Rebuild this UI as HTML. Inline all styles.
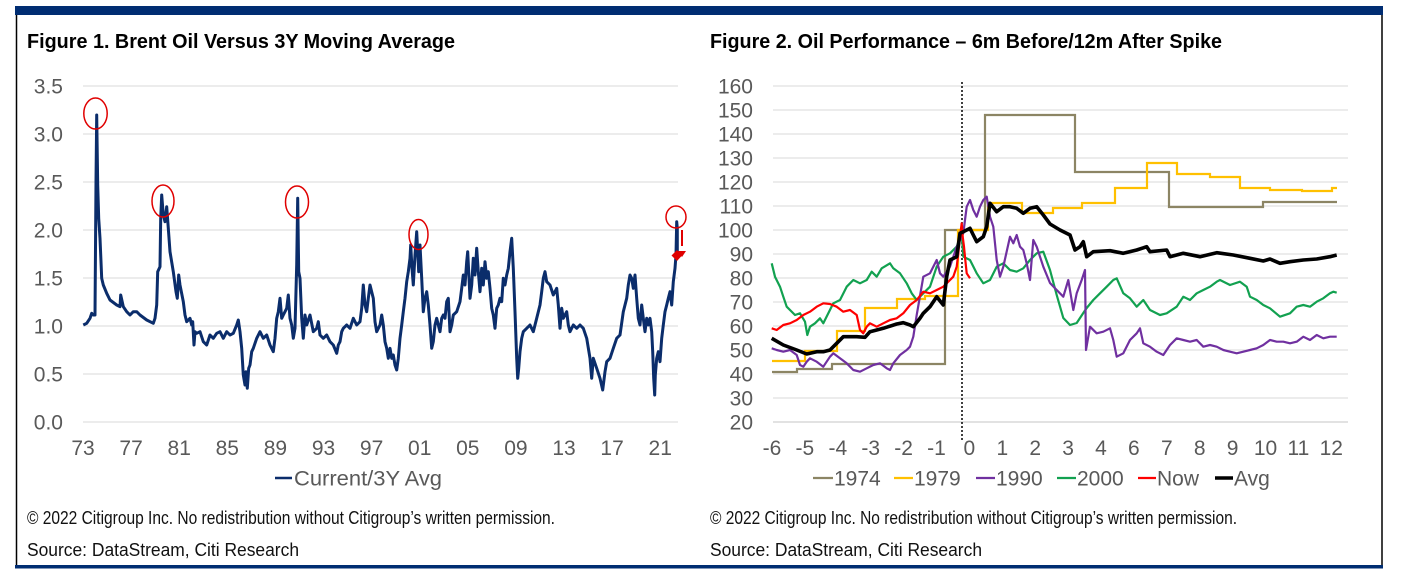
<!DOCTYPE html>
<html>
<head>
<meta charset="utf-8">
<style>
html,body{margin:0;padding:0;background:#fff;}
svg{display:block;}
text{font-family:"Liberation Sans",Arial,sans-serif;}
.tk{font-size:21px;fill:#595959;}
.ttl{font-family:"Liberation Sans Narrow","Liberation Sans",Arial,sans-serif;font-size:20px;font-weight:bold;fill:#000;}
.cp{font-family:"Liberation Sans Narrow","Liberation Sans",Arial,sans-serif;font-size:18px;fill:#111;}
.src{font-size:18px;fill:#111;}
.g{stroke:#d9d9d9;stroke-width:1;}
</style>
</head>
<body>
<svg width="1423" height="587" viewBox="0 0 1423 587" xmlns="http://www.w3.org/2000/svg">
<rect x="0" y="0" width="1423" height="587" fill="#fff"/>
<!-- frame -->
<rect x="15" y="6" width="1368" height="9" fill="#002D72"/>
<line x1="16.5" y1="15" x2="16.5" y2="566" stroke="#000" stroke-width="1.5"/>
<line x1="1382" y1="15" x2="1382" y2="566" stroke="#000" stroke-width="1.5"/>
<rect x="15" y="565" width="1368" height="3.5" fill="#002D72"/>

<!-- titles -->
<text class="ttl" x="27" y="48" textLength="428" lengthAdjust="spacingAndGlyphs">Figure 1. Brent Oil Versus 3Y Moving Average</text>
<text class="ttl" x="710" y="48" textLength="512" lengthAdjust="spacingAndGlyphs">Figure 2. Oil Performance – 6m Before/12m After Spike</text>

<!-- LEFT CHART -->
<g>
<line class="g" x1="83" y1="86" x2="678" y2="86"/>
<line class="g" x1="83" y1="134" x2="678" y2="134"/>
<line class="g" x1="83" y1="182" x2="678" y2="182"/>
<line class="g" x1="83" y1="230" x2="678" y2="230"/>
<line class="g" x1="83" y1="278" x2="678" y2="278"/>
<line class="g" x1="83" y1="326" x2="678" y2="326"/>
<line class="g" x1="83" y1="374" x2="678" y2="374"/>
<line class="g" x1="83" y1="422" x2="678" y2="422"/>
</g>
<g class="tk" text-anchor="end">
<text x="63" y="93.5">3.5</text>
<text x="63" y="141.5">3.0</text>
<text x="63" y="189.5">2.5</text>
<text x="63" y="237.5">2.0</text>
<text x="63" y="285.5">1.5</text>
<text x="63" y="333.5">1.0</text>
<text x="63" y="381.5">0.5</text>
<text x="63" y="429.5">0.0</text>
</g>
<g class="tk" text-anchor="middle">
<text x="83" y="455">73</text>
<text x="131.1" y="455">77</text>
<text x="179.2" y="455">81</text>
<text x="227.3" y="455">85</text>
<text x="275.4" y="455">89</text>
<text x="323.5" y="455">93</text>
<text x="371.6" y="455">97</text>
<text x="419.7" y="455">01</text>
<text x="467.8" y="455">05</text>
<text x="515.9" y="455">09</text>
<text x="564" y="455">13</text>
<text x="612.1" y="455">17</text>
<text x="660.2" y="455">21</text>
</g>
<polyline fill="none" stroke="#0B2D6B" stroke-width="3" stroke-linejoin="round" points="83.3,325 86.7,323.3 90,318.3 91.7,313.3 93.3,315 95,315 96,181.7 96.7,115 97.7,185 98.7,218.3 100,238.3 101.7,278.3 103.3,285 106.7,293.3 110,300 116.7,305 120,306.7 120.7,295 123.3,306.7 126.7,311.7 130,315 133.3,311.7 136.7,311.7 140,315 146.7,320 153.3,323.3 155,318.3 156.7,305 157.7,271.7 160,266.7 160.7,218.3 161.7,195 163.3,215 165,221.7 166.7,206.7 168.3,228.3 170,251.7 173.3,271.7 176,291.7 177.3,298.3 178.7,275 180,285 183.3,301.7 185,315 186.7,321.7 190,318.3 191.7,325 192.7,321.7 194,345 195,331.7 196.7,333.3 200,331.7 203.3,341.7 206.7,345 210,335 213.3,338.3 216.7,333.3 220,331.7 223.3,338.3 226.7,331.7 230,335 233.3,333.3 236.7,325 238.3,320 240,331.7 241.7,348.3 243.3,375 245,385 246,371.7 247.3,388.3 248.7,368.3 250,365 251.7,351.7 253.3,348.3 256.7,338.3 260,331.7 263.3,338.3 266.7,335 270,345 273.3,351.7 275,338.3 276.7,318.3 278.3,311.7 280,298.3 281.7,318.3 283.3,315 286.7,308.3 288.3,295 290,318.3 291.7,325 293.3,338.3 295,328.3 296.7,265 297.7,198.3 298.7,271.7 300,278.3 301.7,318.3 303.3,338.3 305,315 306.7,325 310,315 313.3,331.7 316.7,328.3 318.3,321.7 320,335 323.3,338.3 326.7,335 330,341.7 333.3,345 336.7,353.3 338.3,345 340,341.7 341.7,331.7 343.3,328.3 346.7,325 350,328.3 353.3,318.3 356.7,325 360,321.7 361.7,308.3 363.3,285 365,305 366.7,311.7 368.3,298.3 370,285 373.3,298.3 375,321.7 376.7,331.7 380,325 381.7,315 383.3,325 385,341.7 386.7,348.3 388.3,358.3 390,348.3 391.7,358.3 393.3,355 395,365 396.7,370 398.3,358.3 400,338.3 401.7,325 403.3,311.7 405,298.3 406.7,281.7 408.3,271.7 410,258.3 410.7,245 412,268.3 413.3,285 415,255 416.7,231.7 417.7,251.7 418.7,271.7 420,245 421.7,278.3 423.3,311.7 425,298.3 426.7,291.7 428.3,305 430,325 431.7,348.3 433.3,341.7 435,325 436.7,318.3 438.3,325 440,331.7 441.7,318.3 443.3,315 445,318.3 446.7,301.7 448.3,298.3 450,331.7 451.7,325 453.3,315 456.7,311.7 460,301.7 461.7,288.3 463.3,275 465,285 466.7,261.7 467.7,251.7 468.7,271.7 470,298.3 471.7,285 473.3,258.3 475,275 476.7,248.3 478.3,271.7 480,291.7 481.7,268.3 483.3,285 485,261.7 486.7,278.3 488.3,271.7 490,288.3 491.7,308.3 493.3,315 495,328.3 496.7,308.3 498.3,305 500,298.3 501.7,301.7 503.3,278.3 505,285 506.7,275 508.3,268.3 510,251.7 511.7,238.3 513.3,268.3 515,311.7 516.7,358.3 517.7,378.3 518.7,368.3 520,351.7 521.7,338.3 523.3,331.7 526.7,328.3 530,325 533.3,331.7 536.7,318.3 540,305 541.7,291.7 543.3,278.3 545,271.7 546.7,281.7 550,285 553.3,295 556.7,288.3 558.3,305 560,328.3 561.7,308.3 563.3,318.3 566.7,311.7 568.3,325 570,331.7 573.3,325 576.7,328.3 580,325 583.3,328.3 586.7,338.3 590,358.3 591.7,378.3 593.3,358.3 596.7,368.3 600,378.3 602.7,390 605,371.7 606.7,361.7 610,358.3 613.3,348.3 616.7,338.3 620,335 623.3,311.7 625,305 626.7,298.3 628.3,285 630,275 631.7,278.3 633.3,288.3 635,275 636.7,298.3 638.3,318.3 640,325 641.7,305 643.3,318.3 645,331.7 646.7,318.3 648.3,325 650,318.3 651.7,331.7 652.7,351.7 653.7,378.3 654.7,395 655.3,375 656.7,358.3 658.3,351.7 660,361.7 661.7,338.3 663.3,325 665,311.7 666.7,305 668.3,298.3 670,291.7 671.7,305 673.3,281.7 675,268.3 676,255 676.7,221.7 677.3,228.3 677.3,255"/>
<!-- annotations -->
<g fill="none" stroke="#E00000" stroke-width="1.5">
<ellipse cx="95.5" cy="113.5" rx="11.7" ry="15.5"/>
<ellipse cx="163" cy="201" rx="11" ry="16"/>
<ellipse cx="297" cy="202" rx="11.5" ry="16"/>
<ellipse cx="418.5" cy="234.5" rx="9.5" ry="15"/>
<ellipse cx="676" cy="217" rx="10" ry="11"/>
<line x1="682" y1="230" x2="682" y2="246" stroke-width="2"/>
</g>
<polygon points="678,251 686,251 682,257" fill="#E00000"/>
<polygon points="677,250 682,255.5 677,261 671.5,255.5" fill="#E00000"/>
<!-- left legend -->
<line x1="275" y1="478" x2="292" y2="478" stroke="#0B2D6B" stroke-width="2.5"/>
<text class="tk" x="294" y="485.5" textLength="148" lengthAdjust="spacingAndGlyphs">Current/3Y Avg</text>

<!-- RIGHT CHART -->
<g>
<line class="g" x1="773" y1="86" x2="1348" y2="86"/>
<line class="g" x1="773" y1="110" x2="1348" y2="110"/>
<line class="g" x1="773" y1="134" x2="1348" y2="134"/>
<line class="g" x1="773" y1="158" x2="1348" y2="158"/>
<line class="g" x1="773" y1="182" x2="1348" y2="182"/>
<line class="g" x1="773" y1="206" x2="1348" y2="206"/>
<line class="g" x1="773" y1="230" x2="1348" y2="230"/>
<line class="g" x1="773" y1="254" x2="1348" y2="254"/>
<line class="g" x1="773" y1="278" x2="1348" y2="278"/>
<line class="g" x1="773" y1="302" x2="1348" y2="302"/>
<line class="g" x1="773" y1="326" x2="1348" y2="326"/>
<line class="g" x1="773" y1="350" x2="1348" y2="350"/>
<line class="g" x1="773" y1="374" x2="1348" y2="374"/>
<line class="g" x1="773" y1="398" x2="1348" y2="398"/>
<line x1="773" y1="422" x2="1348" y2="422" stroke="#d9d9d9" stroke-width="1.5"/>
</g>
<g class="tk" text-anchor="end">
<text x="753" y="93.5">160</text>
<text x="753" y="117.5">150</text>
<text x="753" y="141.5">140</text>
<text x="753" y="165.5">130</text>
<text x="753" y="189.5">120</text>
<text x="753" y="213.5">110</text>
<text x="753" y="237.5">100</text>
<text x="753" y="261.5">90</text>
<text x="753" y="285.5">80</text>
<text x="753" y="309.5">70</text>
<text x="753" y="333.5">60</text>
<text x="753" y="357.5">50</text>
<text x="753" y="381.5">40</text>
<text x="753" y="405.5">30</text>
<text x="753" y="429.5">20</text>
</g>
<g class="tk" text-anchor="middle">
<text x="772" y="455">-6</text>
<text x="804.9" y="455">-5</text>
<text x="837.8" y="455">-4</text>
<text x="870.7" y="455">-3</text>
<text x="903.6" y="455">-2</text>
<text x="936.5" y="455">-1</text>
<text x="969.4" y="455">0</text>
<text x="1002.3" y="455">1</text>
<text x="1035.2" y="455">2</text>
<text x="1068.1" y="455">3</text>
<text x="1101" y="455">4</text>
<text x="1133.9" y="455">6</text>
<text x="1166.8" y="455">7</text>
<text x="1199.7" y="455">8</text>
<text x="1232.6" y="455">9</text>
<text x="1265.5" y="455">10</text>
<text x="1298.4" y="455">11</text>
<text x="1331.3" y="455">12</text>
</g>
<!-- dotted line -->
<line x1="962" y1="82" x2="962" y2="442" stroke="#000" stroke-width="1.5" stroke-dasharray="2,2"/>

<!-- 1974 -->
<path fill="none" stroke="#8C8564" stroke-width="2.2" d="M772,372 H797 V369 H832 V364 H945 V230 H985 V115 H1075 V172 H1169 V207 H1263 V202 H1337"/>
<!-- 1979 -->
<path fill="none" stroke="#FFC000" stroke-width="2.2" d="M772,361 H805 V351 H837 V331 H865 V308 H897 V299 H925 V296 H958 V230 H988 V203 H1022 V213 H1053 V208 H1082 V203 H1115 V188 H1147 V163 H1177 V174 H1210 V177 H1240 V188 H1270 V190 H1302 V191 H1332 V188 H1337"/>
<!-- 2000 -->
<polyline fill="none" stroke="#12A150" stroke-width="2.2" stroke-linejoin="round" points="771.7,263.3 775,276.7 780,286.7 783.3,296.7 786.7,306.7 790,310 795,315 800,313.3 805,321.7 807.3,335 810,326.7 815,323.3 820,318.3 823.3,323.3 828.3,313.3 833.3,303.3 840,300 846.7,286.7 853.3,280 860,283.3 866.7,280 871.7,271.7 876.7,276.7 881.7,268.3 890,263.3 893.3,268.3 900,273.3 906.7,283.3 911.7,293.3 916.7,300 923.3,293.3 930,286.7 936.7,266.7 943.3,256.7 950,253.3 956.7,246.7 961.7,233.3 963.3,256.7 970,260 976.7,273.3 983.3,283.3 990,280 996.7,266.7 1003.3,263.3 1010,270 1016.7,271.7 1023.3,268.3 1030,260 1036.7,253.3 1043.3,251.7 1050,270 1056.7,295 1063.3,318 1070,325 1076.7,323 1083.3,313 1086.7,308 1093.3,300 1100,293.3 1106.7,286.7 1113.3,280 1116.7,278.3 1123.3,293.3 1130,298.3 1136.7,306.7 1143.3,300 1150,310 1160,315 1166.7,313.3 1176.7,306.7 1183.3,296.7 1190,300 1196.7,293.3 1203.3,290 1210,286.7 1216.7,281.7 1220,280 1230,285 1240,281.7 1246.7,286.7 1250,296.7 1256.7,300 1263.3,305 1270,308.3 1280,316.7 1290,313.3 1296.7,306.7 1303.3,305 1310,306.7 1316.7,301.7 1323.3,298.3 1330,293.3 1333.3,291.7 1336.7,292.7"/>
<!-- 1990 -->
<polyline fill="none" stroke="#7030A0" stroke-width="2.2" stroke-linejoin="round" points="771.7,348.3 776.7,350 783.3,351.7 790,350 796.7,355 800,365 803.3,366.7 806.7,361.7 810,358.3 816.7,361.7 823.3,366.7 830,356.7 833.3,353.3 840,358.3 846.7,363.3 853.3,370 860,371.7 866.7,368.3 873.3,365 880,363.3 886.7,368.3 890,370 893.3,363.3 900,355 906.7,350 910,346.7 913.3,336.7 916.7,315 920,296 923.3,276.7 930,273.3 936.7,260 940,273.3 943.3,276.7 950,266.7 956.7,246.7 963.3,233.3 966.7,206.7 970,200 973.3,210 976.7,216.7 980,206.7 983.3,200 986.7,196.7 990,216.7 993.3,226.7 995,243.3 996.7,260 1000,276.7 1003.3,266.7 1010,236.7 1013.3,243.3 1016.7,235 1020,246.7 1023.3,250 1026.7,263.3 1030,280 1033.3,240 1036.7,246.7 1043.3,266.7 1050,283 1056.7,290 1063.3,296.7 1068.3,280 1073.3,310 1076.7,293.3 1081.7,280 1085,270 1086,350 1090,326.7 1096.7,333.3 1103.3,331.7 1110,328.3 1113.3,340 1116.7,356.7 1123.3,353.3 1130,340 1136.7,333.3 1140,328.3 1143.3,343.3 1150,346.7 1156.7,351.7 1163.3,355 1170,345 1176.7,338.3 1183.3,340 1190,341.7 1196.7,340 1203.3,346.7 1210,345 1216.7,346.7 1223.3,350 1230,351.7 1236.7,353.3 1243.3,351.7 1250,350 1256.7,348.3 1263.3,345 1270,340 1276.7,341.7 1283.3,341.7 1290,343.3 1296.7,341.7 1303.3,336.7 1310,340 1316.7,335 1323.3,338.3 1330,336.7 1336.7,336.7"/>
<!-- Now -->
<polyline fill="none" stroke="#FF0000" stroke-width="2.2" stroke-linejoin="round" points="771.7,328.3 776.7,330 783.3,325 790,323.3 796.7,320 803.3,315 810,311.7 816.7,306.7 823.3,303.3 830,304 836.7,306.7 843.3,311.7 850,310 856.7,315 860,330 863.3,333.3 866.7,326.7 870,323.3 876.7,326.7 883.3,323.3 890,320 896.7,318.3 903.3,313.3 910,305 916.7,300 923.3,291.7 930,293.3 936.7,290 943.3,286.7 950,280 953.3,276.7 956.7,266.7 958.3,253.3 960,236.7 961.7,223.3 962.7,236.7 964,246.7 965.3,260 966.7,273.3 970,278.3"/>
<!-- Avg -->
<polyline fill="none" stroke="#000" stroke-width="3.6" stroke-linejoin="round" points="771.7,338.3 783.3,345 796.7,350 806.7,354 816.7,351.7 823.3,351.7 830,350 836.7,343.3 843.3,336.7 856.7,336.7 865,337.3 870,331.7 876.7,330 883.3,328.3 896.7,324 903.3,322.7 910,325 913.3,326.7 920,318.3 923.3,313.3 930,306.7 936.7,296.7 943.3,305 946.7,276.7 950,260 956.7,256.7 960,233.3 963.3,231.7 970,228.3 973.3,235 976.7,241.7 983.3,236.7 986.7,226.7 990,203.3 996.7,211.7 1003.3,206.7 1010,206.7 1016.7,208.3 1023.3,213.3 1030,208.3 1036.7,206.7 1043.3,215 1050,224 1060,230 1070,235 1075,250 1080,246.7 1083.3,241.7 1086.7,256.7 1093.3,251.7 1110,250.7 1123.3,253.3 1136.7,250 1146.7,246.7 1150,251.7 1166.7,250 1170,256.7 1183.3,253.3 1200,256.7 1216.7,252.7 1233.3,255 1250,258.3 1263.3,261 1270,259 1280,263.3 1290,261.7 1303.3,260 1316.7,259 1330,256.7 1336.7,255"/>

<!-- right legend -->
<g>
<line x1="813" y1="478" x2="833" y2="478" stroke="#8C8564" stroke-width="2.2"/>
<text class="tk" x="834" y="485.5">1974</text>
<line x1="894" y1="478" x2="913" y2="478" stroke="#FFC000" stroke-width="2.2"/>
<text class="tk" x="914" y="485.5">1979</text>
<line x1="976" y1="478" x2="995" y2="478" stroke="#7030A0" stroke-width="2.2"/>
<text class="tk" x="996" y="485.5">1990</text>
<line x1="1057" y1="478" x2="1076" y2="478" stroke="#12A150" stroke-width="2.2"/>
<text class="tk" x="1077" y="485.5">2000</text>
<line x1="1138" y1="478" x2="1156" y2="478" stroke="#FF0000" stroke-width="2.2"/>
<text class="tk" x="1157" y="485.5">Now</text>
<line x1="1215" y1="478" x2="1233" y2="478" stroke="#000" stroke-width="3.5"/>
<text class="tk" x="1234" y="485.5">Avg</text>
</g>

<!-- footers -->
<text class="cp" x="27" y="524" textLength="528" lengthAdjust="spacingAndGlyphs">© 2022 Citigroup Inc. No redistribution without Citigroup’s written permission.</text>
<text class="cp" x="710" y="524" textLength="527" lengthAdjust="spacingAndGlyphs">© 2022 Citigroup Inc. No redistribution without Citigroup’s written permission.</text>
<text class="src" x="27" y="556" textLength="272" lengthAdjust="spacingAndGlyphs">Source: DataStream, Citi Research</text>
<text class="src" x="710" y="556" textLength="272" lengthAdjust="spacingAndGlyphs">Source: DataStream, Citi Research</text>
</svg>
</body>
</html>
